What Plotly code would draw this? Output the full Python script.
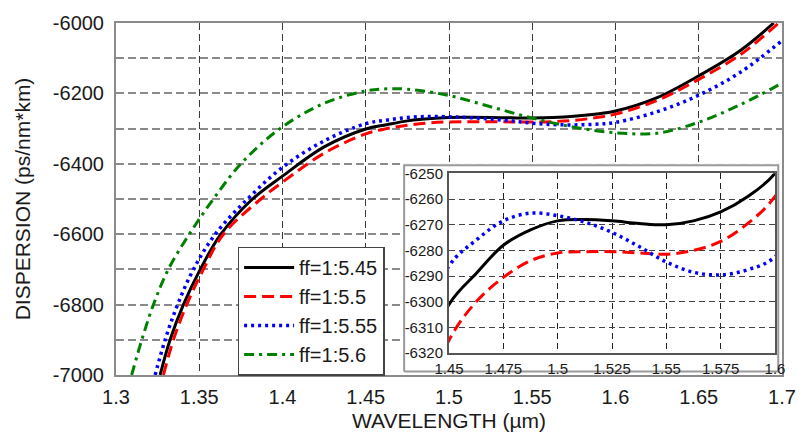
import plotly.graph_objects as go

# ---------------- data ----------------
series_names = ["ff=1:5.45", "ff=1:5.5", "ff=1:5.55", "ff=1:5.6"]

wl_545 = [1.3265, 1.3325, 1.3405, 1.3506, 1.363, 1.382, 1.4, 1.425, 1.45, 1.4625, 1.475, 1.4875,
          1.5, 1.5125, 1.525, 1.5375, 1.55, 1.5625, 1.575, 1.5875, 1.6, 1.625, 1.65, 1.675, 1.695]
d_545 = [-7000, -6900, -6800, -6700, -6600, -6500, -6435, -6352, -6301, -6289, -6278, -6272,
         -6268.5, -6268, -6268.5, -6269.5, -6270, -6268.5, -6265, -6259, -6250, -6212, -6150, -6078, -6000]

wl_55 = [1.3285, 1.3345, 1.3425, 1.3525, 1.3645, 1.387, 1.4, 1.425, 1.45, 1.4625, 1.475, 1.4875,
         1.5, 1.5125, 1.525, 1.5375, 1.55, 1.5625, 1.575, 1.5875, 1.6, 1.625, 1.65, 1.675, 1.698]
d_55 = [-7000, -6900, -6800, -6700, -6600, -6500, -6452, -6370, -6315, -6300, -6290.5, -6284,
        -6281, -6280.5, -6280.5, -6281, -6281.5, -6280, -6276.5, -6269.5, -6259, -6220, -6160, -6090, -6000]

wl_555 = [1.3235, 1.3295, 1.337, 1.3465, 1.3596, 1.379, 1.4, 1.425, 1.45, 1.4625, 1.475, 1.4875,
          1.5, 1.5125, 1.525, 1.5375, 1.55, 1.5625, 1.575, 1.5875, 1.6, 1.625, 1.65, 1.675, 1.7]
d_555 = [-7000, -6900, -6800, -6700, -6600, -6500, -6410, -6335, -6286, -6276, -6268.5, -6265.5,
         -6266.5, -6269, -6273, -6278.5, -6284.5, -6288.5, -6289.5, -6287.5, -6282.5, -6252, -6205, -6140, -6050]

wl_56 = [1.3094, 1.3155, 1.3225, 1.3314, 1.344, 1.3585, 1.375, 1.3985, 1.425, 1.45, 1.4625, 1.475,
         1.5, 1.525, 1.55, 1.575, 1.6, 1.625, 1.65, 1.675, 1.7]
d_56 = [-7000, -6900, -6800, -6700, -6600, -6500, -6400, -6300, -6228, -6193, -6187, -6188,
        -6206, -6238, -6270, -6296, -6312, -6313, -6282, -6232, -6171]

main_xticks = [1.3, 1.35, 1.4, 1.45, 1.5, 1.55, 1.6, 1.65, 1.7]
main_xlabels = ["1.3", "1.35", "1.4", "1.45", "1.5", "1.55", "1.6", "1.65", "1.7"]
main_ygrid = [-7000, -6900, -6800, -6700, -6600, -6500, -6400, -6300, -6200, -6100, -6000]
main_ylabels = ["-7000", "", "-6800", "", "-6600", "", "-6400", "", "-6200", "", "-6000"]

inset_xticks = [1.45, 1.475, 1.5, 1.525, 1.55, 1.575, 1.6]
inset_xlabels = ["1.45", "1.475", "1.5", "1.525", "1.55", "1.575", "1.6"]
inset_yticks = [-6320, -6310, -6300, -6290, -6280, -6270, -6260, -6250]
inset_ylabels = ["-6320", "-6310", "-6300", "-6290", "-6280", "-6270", "-6260", "-6250"]

# ---------------- styles ----------------
colors = ["#000000", "#ff0000", "#0000ff", "#008000"]
dashes = ["solid", "12px,6px", "3px,4px", "10px,5px,3px,5px"]
widths = [3, 3, 3.5, 3]

xs = [wl_545, wl_55, wl_555, wl_56]
ys = [d_545, d_55, d_555, d_56]

fig = go.Figure()

# main curves
for i in range(4):
    fig.add_trace(go.Scatter(
        x=xs[i], y=ys[i], mode="lines", name=series_names[i], legendgroup=series_names[i],
        line=dict(color=colors[i], dash=dashes[i], width=widths[i], shape="spline", smoothing=1.0),
        xaxis="x", yaxis="y", hoverinfo="skip"))

# white frame of the inset (hidden axes x2/y2)
fig.add_trace(go.Scatter(
    x=[0, 1, 1, 0, 0], y=[0, 0, 1, 1, 0], mode="lines", fill="toself", fillcolor="white",
    line=dict(color="#9a9a9a", width=2), showlegend=False, xaxis="x2", yaxis="y2", hoverinfo="skip"))

# inset curves
for i in range(3):
    fig.add_trace(go.Scatter(
        x=xs[i], y=ys[i], mode="lines", name=series_names[i], showlegend=False,
        line=dict(color=colors[i], dash=dashes[i], width=widths[i], shape="spline", smoothing=1.0),
        xaxis="x3", yaxis="y3", hoverinfo="skip"))

font_family = "Liberation Sans, Arial, sans-serif"

fig.update_layout(
    width=808, height=442,
    margin=dict(l=116, r=24, t=19, b=67),
    paper_bgcolor="white", plot_bgcolor="white",
    font=dict(family=font_family, size=20, color="#1a1a1a"),
    showlegend=True,
    xaxis=dict(
        domain=[0, 1], range=[1.3, 1.7], tickvals=main_xticks, ticktext=main_xlabels,
        showgrid=True, gridcolor="#3a3a3a", gridwidth=1.2, griddash="7px,4px",
        showline=True, linecolor="#8a8a8a", linewidth=2, mirror=True, zeroline=False,
        ticks="", ticklabelstandoff=3, tickfont=dict(size=20),
        title=dict(text="WAVELENGTH (µm)", font=dict(size=21), standoff=6)),
    yaxis=dict(
        domain=[0, 1], range=[-7000, -6000], tickvals=main_ygrid, ticktext=main_ylabels,
        showgrid=True, gridcolor="#8a8a8a", gridwidth=1.8, griddash="8px,4px",
        showline=True, linecolor="#8a8a8a", linewidth=2, mirror=True, zeroline=False,
        ticks="", ticklabelstandoff=6, tickfont=dict(size=20),
        title=dict(text="DISPERSION (ps/nm*km)", font=dict(size=21), standoff=16)),
    xaxis2=dict(domain=[0.427, 1.0], range=[-0.01, 1.01], visible=False, anchor="y2"),
    yaxis2=dict(domain=[0.004, 0.602], range=[-0.01, 1.01], visible=False, anchor="x2"),
    xaxis3=dict(
        domain=[0.5, 0.9895], range=[1.45, 1.6], anchor="y3", tickvals=inset_xticks, ticktext=inset_xlabels,
        showgrid=True, gridcolor="#222222", gridwidth=1, griddash="6px,4px",
        showline=True, linecolor="#555555", linewidth=2, mirror=True, zeroline=False,
        ticks="", ticklabelstandoff=1, tickfont=dict(size=15)),
    yaxis3=dict(
        domain=[0.0618, 0.573], range=[-6320, -6250], anchor="x3", tickvals=inset_yticks, ticktext=inset_ylabels,
        showgrid=True, gridcolor="#444444", gridwidth=1.4, griddash="6px,4px",
        showline=True, linecolor="#555555", linewidth=2, mirror=True, zeroline=False,
        ticks="", ticklabelstandoff=1, tickfont=dict(size=15)),
    legend=dict(
        x=0.1826, y=0.365, xanchor="left", yanchor="top", bgcolor="white",
        bordercolor="#444444", borderwidth=1.5, font=dict(size=20, family=font_family),
        traceorder="grouped", tracegroupgap=0, itemwidth=50),
)

fig.write_html("out.html")
